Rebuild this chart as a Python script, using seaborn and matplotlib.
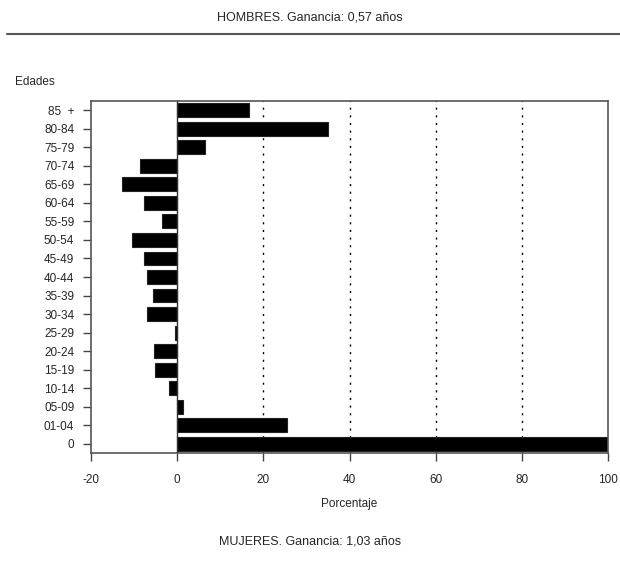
import matplotlib
matplotlib.use("Agg")
import matplotlib.pyplot as plt
from matplotlib.lines import Line2D
import seaborn as sns
import pandas as pd

edades = ["85  +", "80-84", "75-79", "70-74", "65-69", "60-64", "55-59", "50-54",
          "45-49", "40-44", "35-39", "30-34", "25-29", "20-24", "15-19", "10-14",
          "05-09", "01-04", "0"]
porcentaje = [16.7, 34.9, 6.4, -8.6, -12.9, -7.8, -3.6, -10.4,
              -7.8, -7.1, -5.7, -7.1, -0.4, -5.3, -5.1, -2.0,
              1.4, 25.6, 100.0]
xticks = [-20, 0, 20, 40, 60, 80, 100]
grid_x = [20, 40, 60, 80]

df = pd.DataFrame({"Edades": edades, "Porcentaje": porcentaje})

sns.set_style("white")
plt.rcParams["font.family"] = ["Liberation Sans", "DejaVu Sans"]

fig = plt.figure(figsize=(6.2, 5.7), dpi=100)
ax = fig.add_axes([91/620, 1-453/570, (608-91)/620, (453-101)/570])

for g in grid_x:
    ax.axvline(g, color="black", linestyle=(0, (1.5, 4)), linewidth=1.0, zorder=0)

sns.barplot(data=df, x="Porcentaje", y="Edades", order=edades, orient="h",
            color="black", edgecolor="#222222", linewidth=0.8, width=0.75,
            saturation=1, ax=ax, zorder=2)
ax.axvline(0, color="#333333", linewidth=1.0, zorder=3)

ax.set_xlim(-20, 100)
ax.set_ylim(len(edades) - 0.5, -0.5)
ax.set_xticks(xticks)
ax.set_xticklabels([str(t) for t in xticks])
ax.set_xlabel("Porcentaje", fontsize=8.5, labelpad=9)
ax.set_ylabel("")
ax.tick_params(axis="both", which="both", direction="out", length=6, width=1,
               color="#444444", labelsize=8.5, pad=6,
               bottom=True, left=True, top=False, right=False)
ax.tick_params(axis="x", pad=9)
for s in ax.spines.values():
    s.set_visible(True)
    s.set_color("#555555")
    s.set_linewidth(1.2)

fig.text(15/620, 1-82/570, "Edades", fontsize=8.5, ha="left", va="center")
fig.text(0.5, 1-18/570, "HOMBRES. Ganancia: 0,57 años", fontsize=9, ha="center", va="center")
fig.text(0.5, 1-541/570, "MUJERES. Ganancia: 1,03 años", fontsize=9, ha="center", va="center")
fig.add_artist(Line2D([7/620, 1.0], [1-34/570, 1-34/570], color="#555555", linewidth=1.5))

fig.savefig("out.png", dpi=100)
